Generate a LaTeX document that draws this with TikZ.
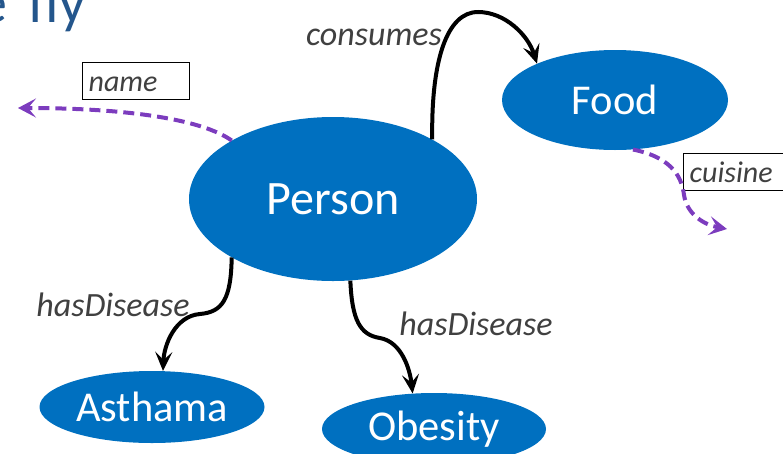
\documentclass[tikz,border=0pt]{standalone}
\usepackage{fontspec}
\setmainfont{Carlito}
\usetikzlibrary{arrows.meta,shapes.geometric}
\definecolor{nodeblue}{RGB}{0,112,192}
\definecolor{attrpurple}{RGB}{124,60,190}
\definecolor{labelgray}{RGB}{64,64,64}
\definecolor{titleblue}{RGB}{36,86,140}
\tikzset{
  cls/.style={ellipse, fill=nodeblue, draw=none, inner sep=0pt, text=white,
    font=\fontsize{42.5}{42.5}\selectfont},
  rel/.style={draw=black, line width=4pt,
    -{Stealth[length=19pt,width=17pt,inset=8pt]}},
  attr/.style={draw=attrpurple, line width=4pt, dash pattern=on 11pt off 6pt,
    -{Stealth[length=18pt,width=19pt,inset=8pt]}},
  rellabel/.style={text=labelgray, font=\fontsize{34}{34}\selectfont\itshape,
    inner sep=0pt, anchor=base},
  attrbox/.style={draw=black, line width=1.3pt, fill=white, anchor=north west,
    minimum width=107pt, minimum height=37pt, text width=95pt, align=left,
    inner xsep=6pt, inner ysep=0pt, text height=29pt, text depth=8pt,
    text=labelgray, font=\fontsize{30}{30}\selectfont\itshape},
}
\begin{document}
\begin{tikzpicture}[x=1pt,y=-1pt]
\useasboundingbox (0,0) rectangle (783,453);
% title fragment
\node[anchor=base east, inner sep=0pt, text=titleblue,
  font=\fontsize{58}{58}\selectfont] (title) at (86,22) {e\hspace{8pt} fly};
% class nodes
\node[cls, minimum width=288pt, minimum height=164pt,
  font=\fontsize{48}{48}\selectfont] (person) at (333,199) {Person};
\node[cls, minimum width=226pt, minimum height=100pt] (food) at (615,100) {Food};
\node[cls, minimum width=225pt, minimum height=72pt] (asthama) at (152,407) {Asthama};
\node[cls, minimum width=224pt, minimum height=72pt] (obesity) at (434,429) {Obesity};
% attribute boxes
\node[attrbox] (namebox) at (82,62) {name};
\node[attrbox] (cuisinebox) at (683,153) {cuisine};
% free ends
\coordinate (nameend) at (18,108);
\coordinate (cuisineend) at (727,229);
% relations
\draw[rel] (person.31) .. controls (431,60) and (447,12) .. (478,12)
  .. controls (505,12) and (528,35) .. (food.155);
\draw[rel] (person.210) .. controls (231,300) and (222,312) .. (200,314)
  .. controls (175,316) and (164,345) .. (asthama.73);
\draw[rel] (person.-78) .. controls (352,320) and (360,335) .. (380,338)
  .. controls (402,342) and (410,370) .. (obesity.121);
% attributes
\draw[attr] (person.150) .. controls (200,118) and (120,108) .. (nameend);
\draw[attr] (food.-70) .. controls (675,158) and (682,180) .. (684,195)
  .. controls (687,215) and (705,225) .. (cuisineend);
% labels
\node[rellabel] (lconsumes) at (374,45) {consumes};
\node[rellabel] (lhas1) at (113,316) {hasDisease};
\node[rellabel] (lhas2) at (476,335) {hasDisease};
\end{tikzpicture}
\end{document}
